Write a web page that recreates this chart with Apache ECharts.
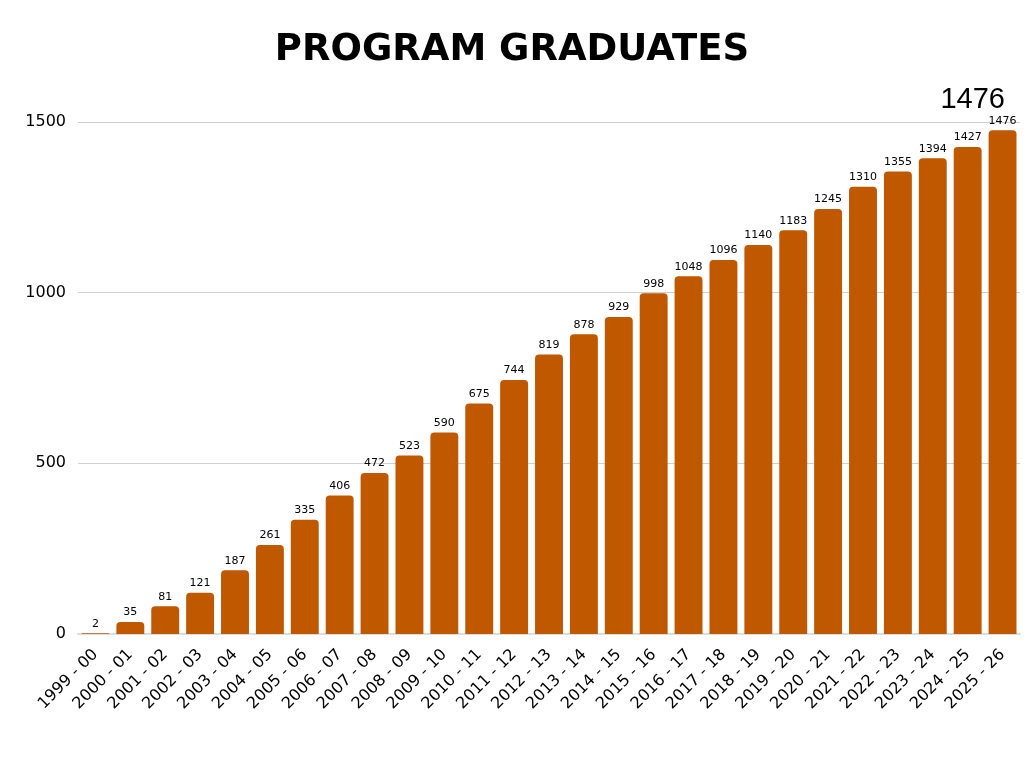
<!DOCTYPE html>
<html>
<head>
<meta charset="utf-8">
<script src="https://cdn.jsdelivr.net/npm/echarts@6/dist/echarts.min.js"></script>
<style>
  html, body { margin: 0; padding: 0; background: #fff; }
  #chart { width: 1024px; height: 768px; }
</style>
</head>
<body>
<div id="chart"></div>
<script>
const years = [
  '1999 - 00', '2000 - 01', '2001 - 02', '2002 - 03', '2003 - 04', '2004 - 05',
  '2005 - 06', '2006 - 07', '2007 - 08', '2008 - 09', '2009 - 10', '2010 - 11',
  '2011 - 12', '2012 - 13', '2013 - 14', '2014 - 15', '2015 - 16', '2016 - 17',
  '2017 - 18', '2018 - 19', '2019 - 20', '2020 - 21', '2021 - 22', '2022 - 23',
  '2023 - 24', '2024 - 25', '2025 - 26'
]
const graduates = [
  2, 35, 81, 121, 187, 261, 335, 406, 472, 523, 590, 675, 744, 819, 878, 929,
  998, 1048, 1096, 1140, 1183, 1245, 1310, 1355, 1394, 1427, 1476
]
const yTicks = [0, 500, 1000, 1500]

const font = '"DejaVu Sans", Verdana, sans-serif'
const barColor = '#c05800'

let chart = echarts.init(document.getElementById('chart'))

chart.setOption({
  animation: false,
  title: [
    {
      text: 'PROGRAM GRADUATES',
      left: 'center',
      top: 27,
      padding: [5, 0, 5, 7],
      textStyle: { fontFamily: font, fontWeight: 'bold', fontSize: 37, color: '#000' }
    },
    {
      // running total shown at top right
      text: String(graduates[graduates.length - 1]),
      right: 14,
      top: 80,
      textStyle: { fontFamily: '"Liberation Sans", Arial, sans-serif', fontWeight: 'normal', fontSize: 29, color: '#000' }
    }
  ],
  grid: { left: 78, right: 4, top: 122, bottom: 134 },
  xAxis: {
    type: 'category',
    data: years,
    axisTick: { show: false },
    axisLine: { lineStyle: { color: '#dddddd', width: 2 } },
    axisLabel: {
      interval: 0,
      rotate: 45,
      margin: 18,
      fontFamily: font,
      fontSize: 16,
      color: '#000'
    }
  },
  yAxis: {
    type: 'value',
    min: yTicks[0],
    max: yTicks[yTicks.length - 1],
    interval: 500,
    axisLine: { show: false },
    axisTick: { show: false },
    splitLine: { lineStyle: { color: '#d0d0d0', width: 1 } },
    axisLabel: {
      fontFamily: font,
      fontSize: 16,
      color: '#000',
      margin: 12,
      formatter: v => String(v)
    }
  },
  series: [{
    type: 'bar',
    data: graduates,
    barCategoryGap: '20%',
    itemStyle: { color: barColor, borderRadius: [4, 4, 0, 0] },
    label: {
      show: true,
      position: 'top',
      distance: 4,
      fontFamily: font,
      fontSize: 11,
      color: '#000'
    }
  }]
})
</script>
</body>
</html>
